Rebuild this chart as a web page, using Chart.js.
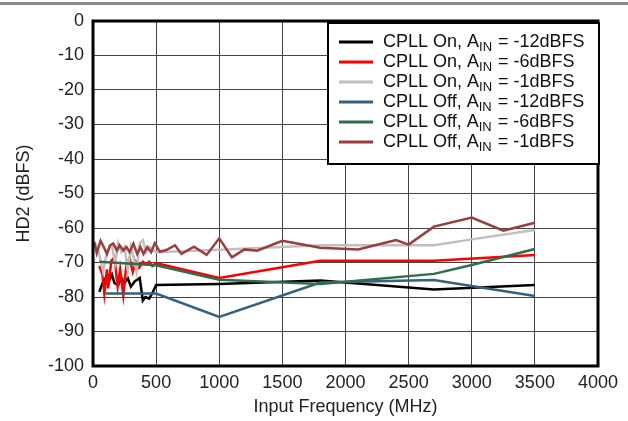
<!DOCTYPE html>
<html><head><meta charset="utf-8">
<script src="https://cdn.jsdelivr.net/npm/chart.js@4"></script>
<style>html,body{margin:0;padding:0;background:#fff;}#wrap{width:628px;height:421px;}</style>
</head><body><div id="wrap"><canvas id="c" width="628" height="421"></canvas></div>
<script>
// ---- data ----
const xTickValues = [0,500,1000,1500,2000,2500,3000,3500,4000];
const yTickValues = [0,-10,-20,-30,-40,-50,-60,-70,-80,-90,-100];

const onM12Freq = [50,75,100,125,150,170,200,225,250,275,300,330,370,395,415,445,475,500,1000,1800,2700,3500];
const onM12Hd2  = [-78.5,-76,-74.5,-75.5,-73.5,-76,-76.5,-74.5,-76,-74.5,-77,-75.5,-74.5,-81,-80,-80.5,-78.5,-76.5,-76.2,-75.2,-77.8,-76.5];

const onM6Freq = [50,75,90,110,120,145,170,195,215,240,265,290,315,340,365,395,420,445,470,500,1000,1800,2700,3500];
const onM6Hd2  = [-71,-73.5,-79,-72,-77.5,-69.5,-68.5,-77,-72,-79.5,-70.5,-68.8,-72.7,-69.8,-71.5,-69.8,-70.5,-69.8,-71,-70.2,-74.5,-69.5,-69.5,-67.8];

const onM1Freq = [20,45,65,80,100,125,150,175,200,225,250,275,300,325,345,370,395,420,450,475,500,1000,1800,2700,3000,3500];
const onM1Hd2  = [-64.5,-67,-70.2,-72.7,-68.8,-66,-65,-70.2,-64.4,-67,-65.5,-72.2,-65.5,-69,-72.7,-64.4,-63.5,-67,-65.5,-66.5,-67,-66.3,-65,-65,-63.3,-60.6];

const offM12Freq = [100,500,1000,1800,2700,3500];
const offM12Hd2  = [-79,-79,-85.8,-75.8,-75.1,-79.7];

const offM6Freq = [50,500,1000,1800,2700,3000,3500];
const offM6Hd2  = [-69.8,-70.8,-75,-76.2,-73.3,-70.7,-66.1];

const offM1Freq = [10,30,60,85,110,135,160,190,210,240,265,290,320,350,375,400,430,460,490,530,580,650,700,800,900,1000,1100,1200,1300,1500,1800,2100,2400,2500,2700,3000,3250,3500];
const offM1Hd2  = [-64,-67.3,-63.7,-65.5,-67.5,-65,-64.5,-66.5,-65,-66.5,-65.5,-67,-64.5,-67.5,-65.5,-67.5,-65.5,-67,-64.4,-66.9,-66.4,-65,-67.5,-65.4,-67.8,-63,-68.5,-66.2,-66.6,-63.7,-65.7,-66.2,-63.5,-64.8,-59.6,-57,-60.8,-58.5];

const labelPre  = ['CPLL On, A','CPLL On, A','CPLL On, A','CPLL Off, A','CPLL Off, A','CPLL Off, A'];
const labelSub  = ['IN','IN','IN','IN','IN','IN'];
const labelPost = [' = -12dBFS',' = -6dBFS',' = -1dBFS',' = -12dBFS',' = -6dBFS',' = -1dBFS'];
const colors = ['#000000','#ff0000','#c0c0c0','#35607e','#2e6e4a','#9e3c3c'];

const xTitle = 'Input Frequency (MHz)';
const yTitle = 'HD2 (dBFS)';

// ---- build ----
const series = [[onM12Freq,onM12Hd2],[onM6Freq,onM6Hd2],[onM1Freq,onM1Hd2],[offM12Freq,offM12Hd2],[offM6Freq,offM6Hd2],[offM1Freq,offM1Hd2]];
const FONT = '"Liberation Sans", Arial, Helvetica, sans-serif';
const datasets = series.map((s,i)=>({
  label: labelPre[i]+labelSub[i]+labelPost[i],
  data: s[0].map((f,k)=>({x:f,y:s[1][k]})),
  borderColor: colors[i],
  backgroundColor: colors[i],
  borderWidth: 2.5,
  pointRadius: 0,
  tension: 0,
  order: 6-i
}));

const decor = {
  id:'decor',
  beforeDraw(chart){
    const c = chart.ctx;
    c.save();
    c.fillStyle = '#fff'; c.fillRect(0,0,chart.width,chart.height);
    c.fillStyle = '#8a8a8a'; c.fillRect(0,2,chart.width,3);
    c.restore();
  },
  afterDraw(chart){
    const c = chart.ctx, a = chart.chartArea;
    c.save();
    c.strokeStyle = '#000'; c.lineWidth = 3;
    c.strokeRect(a.left, a.top, a.right-a.left, a.bottom-a.top);
    // legend
    const bx = 328, by = 23, bw = a.right + 1 - bx, bh = 141;
    c.fillStyle = '#fff'; c.fillRect(bx,by,bw,bh);
    c.lineWidth = 2; c.strokeStyle = '#000'; c.strokeRect(bx,by,bw,bh);
    for (let i=0;i<datasets.length;i++){
      const y = by + 19 + i*20;
      c.strokeStyle = colors[i]; c.lineWidth = 3;
      c.beginPath(); c.moveTo(bx+11,y); c.lineTo(bx+45,y); c.stroke();
      c.fillStyle = '#111'; c.textBaseline = 'middle';
      c.font = '18px '+FONT;
      let tx = bx+55;
      c.fillText(labelPre[i], tx, y); tx += c.measureText(labelPre[i]).width;
      c.font = '13px '+FONT;
      c.fillText(labelSub[i], tx, y+5); tx += c.measureText(labelSub[i]).width + 1;
      c.font = '18px '+FONT;
      c.fillText(labelPost[i], tx, y);
    }
    c.restore();
  }
};

new Chart(document.getElementById('c'), {
  type:'line',
  data:{datasets},
  options:{
    responsive:false, animation:false,
    layout:{padding:{top:21,right:30,left:0,bottom:0}},
    plugins:{legend:{display:false},tooltip:{enabled:false}},
    scales:{
      x:{type:'linear',min:0,max:4000,
        afterBuildTicks(s){s.ticks = xTickValues.map(v=>({value:v}));},
        afterFit(s){s.height = 55;},
        grid:{color:'#444',lineWidth:1,drawTicks:false},
        border:{display:false},
        ticks:{padding:6,color:'#222',font:{size:18,family:FONT},maxRotation:0,autoSkip:false,callback:v=>String(v)},
        title:{display:true,text:xTitle,color:'#222',font:{size:18,family:FONT},padding:{top:0,bottom:3}}
      },
      y:{type:'linear',min:-100,max:0,
        afterBuildTicks(s){s.ticks = yTickValues.map(v=>({value:v}));},
        afterFit(s){s.width = 93;},
        grid:{color:'#444',lineWidth:1,drawTicks:false},
        border:{display:false},
        ticks:{padding:9,color:'#222',font:{size:18,family:FONT},autoSkip:false,callback:v=>String(v)},
        title:{display:true,text:yTitle,color:'#222',font:{size:18,family:FONT},padding:{top:13,bottom:0}}
      }
    }
  },
  plugins:[decor]
});
</script></body></html>
